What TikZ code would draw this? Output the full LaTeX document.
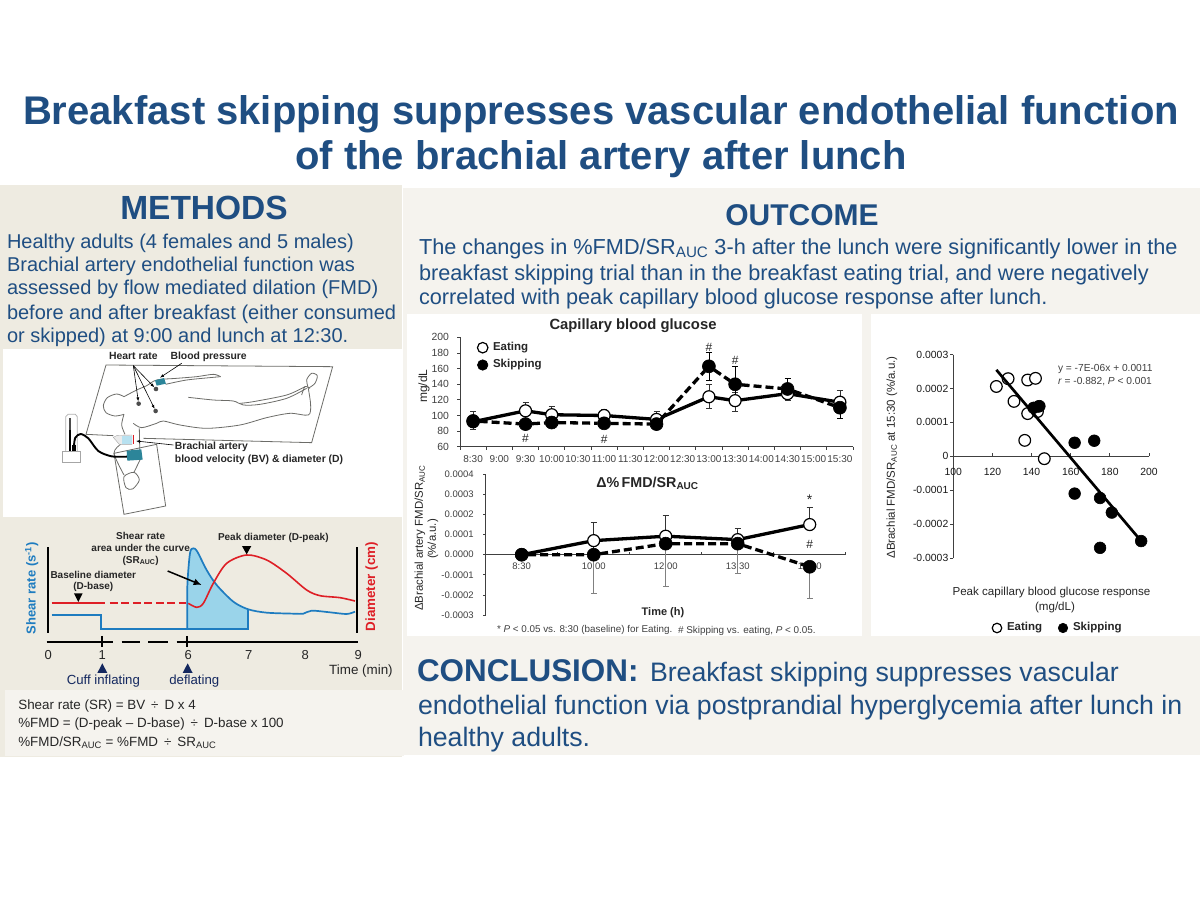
\documentclass[tikz,border=0pt]{standalone}
\usepackage{fontspec}
\setmainfont{Liberation Sans}
\usepackage{xcolor}
\usetikzlibrary{arrows.meta}
\definecolor{panel}{HTML}{EEEBE1}
\definecolor{formula}{HTML}{F5F3EE}
\definecolor{headblue}{HTML}{1F4E82}
\definecolor{navy}{HTML}{14285F}
\definecolor{shearblue}{HTML}{1E7CC0}
\definecolor{aucblue}{HTML}{9AD4EA}
\definecolor{diamred}{HTML}{DE1F26}
\definecolor{cuffteal}{HTML}{2C8599}
\definecolor{bodygray}{HTML}{6C6C68}
\definecolor{ticktext}{HTML}{404040}
\newcommand{\px}[1]{\fontsize{#1}{#1}\selectfont}

\begin{document}
\begin{tikzpicture}[x=1pt, y=-1pt,
every node/.style={inner sep=0pt, outer sep=0pt},
heading/.style={text=headblue, font=\px{40}\bfseries},
section/.style={text=headblue, font=\px{30}\bfseries},
bodytext/.style={anchor=west, text=headblue, font=\px{20}},
sketchlabel/.style={font=\px{10.4}\bfseries, text=black!85},
curvelabel/.style={font=\px{10}\bfseries, text=black!85},
ticklabel/.style={font=\px{10.4}, text=ticktext},
outline/.style={draw=bodygray, line width=0.8pt},
eatdot/.style={circle, draw=black, fill=white, line width=1.2pt, minimum size=12pt},
skipdot/.style={circle, draw=black, fill=black, line width=0.6pt, minimum size=13pt},
eatline/.style={line width=3.3pt},
skipline/.style={line width=3.3pt, dash pattern=on 8pt off 4pt},
ebar/.style={line width=0.8pt, {Bar[width=6pt]}-{Bar[width=6pt]}},
axisline/.style={line width=0.8pt, draw=black!75}]

\useasboundingbox (0,0) rectangle (1200,900);
\fill[white] (0,0) rectangle (1200,900);
\fill[formula] (403,188) rectangle (1200,755);
\fill[panel] (0,185) rectangle (402,757);
\fill[white] (3,349) rectangle (402,517);
\fill[formula] (5,690) rectangle (404,756);
\fill[white] (407,314) rectangle (862,636);
\fill[white] (871,314) rectangle (1200,636);

\draw (601,114) node[heading] (title1) {Breakfast skipping suppresses vascular endothelial function};
\draw (601,159) node[heading] (title2) {of the brachial artery after lunch};
\draw (204,208) node[section, font=\px{33.5}\bfseries] (methods) {METHODS};
\draw (802,215) node[section] (outcome) {OUTCOME};

\draw (7,243.5) node[bodytext] (methods1) {Healthy adults (4 females and 5 males)};
\draw (7,266.5) node[bodytext] (methods2) {Brachial artery endothelial function was};
\draw (7,289.5) node[bodytext] (methods3) {assessed by flow mediated dilation (FMD)};
\draw (7,314) node[bodytext] (methods4) {before and after breakfast (either consumed};
\draw (7,337) node[bodytext] (methods5) {or skipped) at 9:00 and lunch at 12:30.};

\draw (419,248.5) node[bodytext, font=\px{21.7}] (outcome1) {The changes in \%FMD/SR\textsubscript{AUC} 3-h after the lunch were significantly lower in the};
\draw (419,274.5) node[bodytext, font=\px{21.7}] (outcome2) {breakfast skipping trial than in the breakfast eating trial, and were negatively};
\draw (419,299) node[bodytext, font=\px{21.7}] (outcome3) {correlated with peak capillary blood glucose response after lunch.};

\draw (417,671) node[anchor=west, text=headblue, font=\px{31.4}\bfseries] (conclusion) {CONCLUSION:};
\draw (650,675) node[bodytext, font=\px{26.7}] (conclusion1) {Breakfast skipping suppresses vascular};
\draw (418,707.5) node[bodytext, font=\px{26.7}] (conclusion2) {endothelial function via postprandial hyperglycemia after lunch in};
\draw (418,740) node[bodytext, font=\px{26.7}] (conclusion3) {healthy adults.};

\begin{scope}[shift={(0,345)}, x=0.3333pt, y=-0.3333pt]
\draw[outline] (340,272) -- (258,268) -- (318,60) -- (998,65) -- (935,293) -- (430,280);
\draw[outline, fill=white] (342,325) -- (470,298) -- (497,483) -- (372,508) -- cycle;
\draw[outline] plot[smooth] coordinates {(372,155) (350,147) (322,158) (310,182) (318,203) (345,213) (372,208)};
\draw[outline] plot[smooth] coordinates {(372,155) (410,135) (440,122) (470,105) (530,100) (590,95) (640,88) (662,95)};
\draw[outline] plot[smooth] coordinates {(497,118) (560,105) (640,97) (662,95)};
\draw[outline] plot[smooth] coordinates {(565,157) (640,165) (700,168) (730,180) (780,178) (860,160) (920,130)};
\draw[outline] plot[smooth] coordinates {(720,175) (760,170) (860,150) (915,125)};
\draw[outline] plot[smooth] coordinates {(400,235) (425,248) (470,235) (490,228) (540,240) (620,250) (720,240) (800,218) (870,205) (925,210) (932,180) (925,130) (920,105) (935,85) (952,92) (945,115) (928,128)};
\draw[outline] plot[smooth] coordinates {(905,150) (915,125) (930,130)};
\draw[outline] plot[smooth] coordinates {(372,208) (365,240) (375,268)};
\draw[outline] plot[smooth] coordinates {(362,298) (342,325) (372,390)};
\draw[outline] (418,250) -- (420,345) -- (402,382);
\draw[outline, fill=white] plot[smooth cycle] coordinates {(372,395) (402,382) (418,405) (398,432) (378,428)};
\draw[black!30, line width=0.8pt] (197,320) -- (197,215) -- (204,208) -- (226,208) -- (232,215) -- (232,320);
\draw[black!70, line width=1.5pt] (210,220) -- (210,255);
\draw[black, line width=2pt] (210,255) -- (210,318);
\draw[black!35, fill=white, line width=0.8pt] (188,320) rectangle (242,352);
\fill[black] (217,300) rectangle (229,318);
\draw[black, line width=1.9pt] plot[smooth] coordinates {(222,302) (226,278) (242,267) (265,280) (295,318) (335,334) (382,335)};
\fill[cuffteal] (380,317) -- (424,313) -- (428,344) -- (382,347) -- cycle;
\fill[cuffteal] (465,106) -- (492,99) -- (498,116) -- (470,122) -- cycle;
\draw[black!35, fill=black!8] (340,277) -- (352,271) -- (396,270) -- (396,298) -- (358,298) -- cycle;
\fill[aucblue!70] (366,274) rectangle (396,296);
\draw[diamred, line width=1.4pt] (400,270) -- (400,298);
\foreach \name/\x/\y in {dotA/468/132, dotB/416/176, dotC/467/198}
  \node[circle, fill=black!70, minimum size=4.6pt] (\name) at (\x,\y) {};
\coordinate (rateroot) at (400,62);
\coordinate (pressroot) at (545,55);
\coordinate (pressend) at (480,98);
\coordinate (brachroot) at (520,300);
\coordinate (brachend) at (408,288);
\draw[-{Latex[length=4pt,width=3pt]}, line width=0.6pt] (rateroot) -- (dotA);
\draw[-{Latex[length=4pt,width=3pt]}, line width=0.6pt] (rateroot) -- (dotB);
\draw[-{Latex[length=4pt,width=3pt]}, line width=0.6pt] (rateroot) -- (dotC);
\draw[-{Latex[length=4pt,width=3pt]}, line width=0.6pt] (pressroot) -- (pressend);
\draw[-{Latex[length=4pt,width=3pt]}, line width=0.6pt] (brachroot) -- (brachend);
\draw (400,32) node[sketchlabel] (heartlabel) {Heart rate};
\draw (626,35) node[sketchlabel] (pressurelabel) {Blood pressure};
\draw (525,306) node[sketchlabel, anchor=west] (brachlabel1) {Brachial artery};
\draw (525,344) node[sketchlabel, anchor=west] (brachlabel2) {blood velocity (BV) \& diameter (D)};
\end{scope}

\begin{scope}[shift={(0,520)}, x=0.3333pt, y=-0.3333pt]
\fill[aucblue] (562,328) -- plot[smooth] coordinates {(562,200) (570,100) (580,85) (592,95) (620,150) (650,195) (700,245) (745,268)} -- (745,328) -- cycle;
\draw[black, line width=2.2pt] (145,82) -- (145,340);
\draw[black, line width=2.2pt] (1070,82) -- (1070,340);
\draw[shearblue, line width=1.7pt] (155,284) -- (304,284) -- (304,328) -- (561,328);
\draw[shearblue, line width=1.7pt] plot[smooth] coordinates {(562,328) (562,200) (570,100) (580,85) (592,95) (620,150) (650,195) (700,245) (745,268) (800,278) (880,281) (910,281) (935,272) (990,277) (1040,282) (1065,275)};
\draw[shearblue, line width=1.7pt] (745,268) -- (745,328) -- (562,328);
\draw[diamred, line width=1.5pt] (155,249) -- (315,249);
\draw[diamred, line width=1.5pt, dash pattern=on 8pt off 3.5pt] (330,249) -- (558,249);
\draw[diamred, line width=1.6pt] plot[smooth] coordinates {(565,250) (590,262) (610,250) (640,190) (680,130) (740,105) (800,120) (860,160) (920,210) (960,227) (1020,233) (1065,243)};
\draw[black, line width=2pt] (140,365) -- (340,365);
\draw[black, line width=2pt] (365,365) -- (420,365);
\draw[black, line width=2pt] (445,365) -- (505,365);
\draw[black, line width=2pt] (530,365) -- (1075,365);
\draw[black, line width=2pt] (307,348) -- (307,382);
\draw[black, line width=2pt] (562,348) -- (562,382);
\foreach \lab/\x in {0/145, 1/307, 6/565, 7/746, 8/916, 9/1075}
  \node[font=\px{13}, text=black!85] (time\lab) at (\x,405) {\lab};
\draw (1083,452) node[font=\px{13.4}, text=black!85] (timelabel) {Time (min)};
\fill[navy] (307,430) -- (292,459) -- (322,459) -- cycle;
\fill[navy] (563,430) -- (548,459) -- (578,459) -- cycle;
\draw (310,483) node[font=\px{13.2}, text=navy] (inflating) {Cuff inflating};
\draw (583,483) node[font=\px{13.2}, text=navy] (deflating) {deflating};
\fill[black] (222,220) -- (248,220) -- (235,246) -- cycle;
\fill[black] (726,78) -- (754,78) -- (740,103) -- cycle;
\draw (95,205) node[rotate=90, font=\px{13}\bfseries, text=shearblue] (shearaxis) {Shear rate (s\textsuperscript{-1})};
\draw (1115,200) node[rotate=90, font=\px{13.4}\bfseries, text=diamred] (diamaxis) {Diameter (cm)};
\draw (280,165) node[curvelabel] (baseline1) {Baseline diameter};
\draw (280,200) node[curvelabel] (baseline2) {(D-base)};
\draw (422,48) node[curvelabel] (auclabel1) {Shear rate};
\draw (422,85) node[curvelabel] (auclabel2) {area under the curve};
\draw (422,122) node[curvelabel] (auclabel3) {(SR\textsubscript{AUC})};
\draw (820,55) node[curvelabel] (peaklabel) {Peak diameter (D-peak)};
\coordinate (aucroot) at (503,153);
\coordinate (aucend) at (605,195);
\draw[-{Latex[length=8pt,width=7pt]}, line width=1.5pt] (aucroot) -- (aucend);
\draw (55,558) node[anchor=west, font=\px{13.4}, text=black!85] (formula1) {Shear rate (SR) = BV \,÷\, D x 4};
\draw (55,612) node[anchor=west, font=\px{13.4}, text=black!85] (formula2) {\%FMD = (D-peak – D-base) \,÷\, D-base x 100};
\draw (55,668) node[anchor=west, font=\px{13.4}, text=black!85] (formula3) {\%FMD/SR\textsubscript{AUC} = \%FMD \,÷\, SR\textsubscript{AUC}};
\end{scope}

\draw (633,326) node[font=\px{14.8}\bfseries, text=black!85] (glucosetitle) {Capillary blood glucose};
\begin{scope}[shift={(473.1,493.6)}, x=26.2pt, y=0.781pt]
\draw[axisline] (-0.5,200) -- (-0.5,60) -- (14.5,60);
\foreach \v in {60,80,...,200} {
  \draw[axisline] (-0.5,\v) -- ++(-3pt,0);
  \node[ticklabel, anchor=east] (gy\v) at ([xshift=-11pt]-0.5,\v) {\v};
}
\foreach \lab [count=\n from 0] in {8:30,9:00,9:30,10:00,10:30,11:00,11:30,12:00,12:30,13:00,13:30,14:00,14:30,15:00,15:30} {
  \draw[axisline] (\n-0.5,60) -- ++(0,-3pt);
  \node[ticklabel, font=\px{10}] (gx\n) at ([yshift=-12.5pt]\n,60) {\lab};
}
\draw[axisline] (14.5,60) -- ++(0,-3pt);
\foreach \i/\lo/\hi in {0/82/106, 2/95/117, 3/92/112, 5/92/108, 7/82/106, 9/108/140, 10/105/130, 12/119/134, 14/105/133}
  \draw[ebar, black!80] (\i,\lo) -- (\i,\hi);
\foreach \i/\lo/\hi in {9/145/181, 10/125/164, 12/122/148, 14/96/120}
  \draw[ebar] (\i,\lo) -- (\i,\hi);
\foreach \i/\v in {0/92, 2/106, 3/101, 5/100, 7/95, 9/124, 10/119, 12/128, 14/117}
  \node[eatdot] (ge\i) at (\i,\v) {};
\draw[eatline] (ge0) -- (ge2) -- (ge3) -- (ge5) -- (ge7) -- (ge9) -- (ge10) -- (ge12) -- (ge14);
\foreach \i/\v in {0/93, 2/89, 3/91, 5/90, 7/89, 9/163, 10/140, 12/134, 14/110}
  \node[skipdot] (gs\i) at (\i,\v) {};
\draw[skipline] (gs0) -- (gs2) -- (gs3) -- (gs5) -- (gs7) -- (gs9) -- (gs10) -- (gs12) -- (gs14);
\foreach \i/\v in {2/71, 5/70, 9/187, 10/171}
  \node[font=\px{12}, text=black!85] (gh\i) at (\i,\v) {\#};
\end{scope}
\node[eatdot, minimum size=10.5pt] (glegeat) at (482.7,347.7) {};
\node[skipdot, minimum size=10.5pt] (glegskip) at (482.7,365) {};
\draw (493,348) node[anchor=west, font=\px{11.5}\bfseries, text=black!85] (glegeatlabel) {Eating};
\draw (493,365) node[anchor=west, font=\px{11.5}\bfseries, text=black!85] (glegskiplabel) {Skipping};
\draw (424,386) node[rotate=90, font=\px{12}, text=black!85] (gaxis) {mg/dL};

\draw (647.5,483) node[font=\px{14.3}\bfseries, text=black!85] (fmdtitle) {Δ\%\,FMD/SR\textsubscript{AUC}};
\begin{scope}[shift={(521.7,554.7)}, x=72pt, y=20.1pt]
\foreach \v/\lab in {4/0.0004, 3/0.0003, 2/0.0002, 1/0.0001, 0/0.0000, -1/-0.0001, -2/-0.0002, -3/-0.0003} {
  \draw[axisline] (-0.5,\v) -- ++(-3pt,0);
  \node[ticklabel, anchor=east, font=\px{9.5}] (fy\v) at ([xshift=-12pt]-0.5,\v) {\lab};
}
\draw[axisline] (-0.5,4) -- (-0.5,-3);
\draw[axisline] (-0.5,0) -- (4.5,0);
\foreach \n in {0,...,5}
  \draw[axisline] (\n-0.5,0) -- ++(0,3pt);
\foreach \lab [count=\n from 0] in {8:30,10:00,12:00,13:30,15:30}
  \node[ticklabel, font=\px{9.5}] (fx\n) at ([yshift=-12pt]\n,0) {\lab};
\foreach \i/\lo/\hi in {1/0/1.65, 2/0.9/2.0, 3/0.75/1.33, 4/1.5/2.35}
  \draw[ebar, black!80] (\i,\lo) -- (\i,\hi);
\foreach \i/\lo/\hi in {1/-1.95/0, 2/-1.6/0.55, 3/-0.97/0.55, 4/-2.2/-0.6}
  \draw[ebar, black!50] (\i,\lo) -- (\i,\hi);
\foreach \i/\v in {0/0, 1/0.7, 2/0.92, 3/0.75, 4/1.5}
  \node[eatdot] (fe\i) at (\i,\v) {};
\draw[eatline] (fe0) -- (fe1) -- (fe2) -- (fe3) -- (fe4);
\foreach \i/\v in {0/0, 1/0, 2/0.55, 3/0.55, 4/-0.6}
  \node[skipdot] (fs\i) at (\i,\v) {};
\draw[skipline] (fs0) -- (fs1) -- (fs2) -- (fs3) -- (fs4);
\node[font=\px{14}, text=black!85] (fstar) at (4,2.72) {*};
\node[font=\px{12}, text=black!85] (fhash) at (4,0.5) {\#};
\end{scope}
\draw (420,538) node[rotate=90, font=\px{11.4}, text=black!85] (faxis1) {ΔBrachial artery FMD/SR\textsubscript{AUC}};
\draw (433,539) node[rotate=90, font=\px{11.4}, text=black!85] (faxis2) {(\%/a.u.)};
\draw (663,613) node[font=\px{11}\bfseries, text=black!85] (ftime) {Time (h)};
\draw (497,630) node[anchor=west, font=\px{9.85}, text=ticktext] (fnote1) {* \textit{P} < 0.05 vs. 8:30 (baseline) for Eating.};
\draw (678,631) node[anchor=west, font=\px{9.9}, text=ticktext] (fnote2) {\# Skipping vs. eating, \textit{P} < 0.05.};

\begin{scope}[shift={(757.6,456.3)}, x=1.957pt, y=33.9pt]
\draw[axisline, line width=1pt] (100,3) -- (100,-3);
\draw[axisline, line width=1pt] (100,0) -- (200,0);
\foreach \v/\lab in {3/0.0003, 2/0.0002, 1/0.0001, 0/0, -1/-0.0001, -2/-0.0002, -3/-0.0003} {
  \draw[axisline, line width=1pt] (100,\v) -- ++(-3pt,0);
  \node[ticklabel, anchor=east, text=black!90] (sy\v) at ([xshift=-5pt]100,\v) {\lab};
}
\foreach \v in {100,120,...,200} {
  \draw[axisline, line width=1pt] (\v,0) -- ++(0,3pt);
  \node[ticklabel, text=black!90] (sx\v) at ([yshift=-15.4pt]\v,0) {\v};
}
\foreach \x/\y [count=\n] in {122/2.06, 128/2.29, 138/2.25, 142/2.30, 131/1.62, 138/1.26, 143/1.32, 136.5/0.47, 146.5/-0.07}
  \node[eatdot, minimum size=11.7pt] (se\n) at (\x,\y) {};
\foreach \x/\y [count=\n] in {141/1.43, 143.5/1.47, 144/1.48, 162/0.40, 172/0.46, 162/-1.1, 175/-1.23, 181/-1.66, 196/-2.5, 175/-2.7}
  \node[skipdot, minimum size=11.7pt] (ss\n) at (\x,\y) {};
\coordinate (trendstart) at (122,2.55);
\coordinate (trendend) at (196,-2.5);
\draw[line width=2.7pt] (trendstart) -- (trendend);
\end{scope}
\draw (1058,369) node[anchor=west, font=\px{10.2}, text=ticktext] (sfit1) {y = -7E-06x + 0.0011};
\draw (1058,382) node[anchor=west, font=\px{10.2}, text=ticktext] (sfit2) {\textit{r} = -0.882, \textit{P} < 0.001};
\draw (892,457.5) node[rotate=90, font=\px{11.5}, text=black!85] (saxis) {ΔBrachial FMD/SR\textsubscript{AUC} at 15:30 (\%/a.u.)};
\draw (1051.5,592) node[font=\px{11.6}, text=black!85] (sxlabel1) {Peak capillary blood glucose response};
\draw (1055,607) node[font=\px{11.6}, text=black!85] (sxlabel2) {(mg/dL)};
\node[eatdot, minimum size=9.5pt] (slegeat) at (997,628) {};
\node[skipdot, minimum size=9.5pt] (slegskip) at (1063,628) {};
\draw (1007,628) node[anchor=west, font=\px{11.5}\bfseries, text=black!85] (slegeatlabel) {Eating};
\draw (1073,628) node[anchor=west, font=\px{11.5}\bfseries, text=black!85] (slegskiplabel) {Skipping};
\end{tikzpicture}
\end{document}
